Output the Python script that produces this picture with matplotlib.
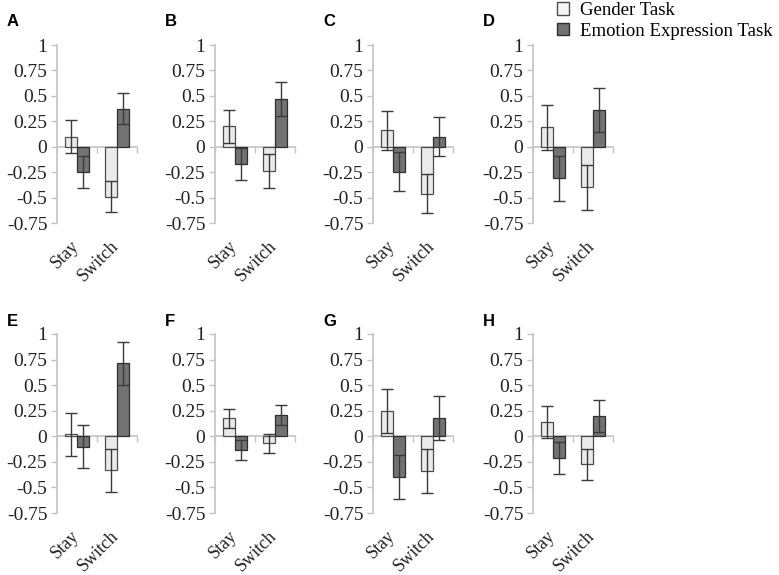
import matplotlib
matplotlib.use("Agg")
import matplotlib.pyplot as plt
from matplotlib.patches import Patch
import numpy as np

panels = ["A", "B", "C", "D", "E", "F", "G", "H"]
conditions = ["Stay", "Switch"]
series_names = ["Gender Task", "Emotion Expression Task"]

# mean values [Stay, Switch]
gender_mean = {
    "A": [0.10, -0.49], "B": [0.20, -0.24], "C": [0.16, -0.46], "D": [0.19, -0.40],
    "E": [0.02, -0.33], "F": [0.175, -0.07], "G": [0.25, -0.34], "H": [0.14, -0.275],
}
emotion_mean = {
    "A": [-0.25, 0.375], "B": [-0.17, 0.47], "C": [-0.245, 0.10], "D": [-0.31, 0.36],
    "E": [-0.10, 0.715], "F": [-0.135, 0.21], "G": [-0.395, 0.18], "H": [-0.21, 0.20],
}
gender_err = {
    "A": [0.16, 0.155], "B": [0.165, 0.165], "C": [0.19, 0.195], "D": [0.22, 0.22],
    "E": [0.21, 0.21], "F": [0.095, 0.095], "G": [0.215, 0.215], "H": [0.155, 0.15],
}
emotion_err = {
    "A": [0.155, 0.15], "B": [0.16, 0.165], "C": [0.19, 0.19], "D": [0.22, 0.22],
    "E": [0.21, 0.21], "F": [0.10, 0.10], "G": [0.215, 0.215], "H": [0.155, 0.155],
}
yticks = [1, 0.75, 0.5, 0.25, 0, -0.25, -0.5, -0.75]
ytick_labels = ["1", "0.75", "0.5", "0.25", "0", "-0.25", "-0.5", "-0.75"]

W, H = 779, 575
fig = plt.figure(figsize=(W / 100, H / 100), dpi=100)

serif = ["Liberation Serif", "DejaVu Serif"]
gray_axis = "#c4c4c4"
g_fill, g_edge = "#eaeaea", "#4d4d4d"
e_fill, e_edge = "#727272", "#2e2e2e"
err_col = "#3a3a3a"

lefts = [57, 215, 373, 533]
row_tb = [(45, 223), (334, 513)]
letter_y = [21, 322]
ax_w = 80

for i, p in enumerate(panels):
    r, c = divmod(i, 4)
    top, bot = row_tb[r]
    ax = fig.add_axes([lefts[c] / W, (H - bot) / H, ax_w / W, (bot - top) / H])
    x = np.arange(len(conditions)) + 0.5
    bw = 0.3
    ax.bar(x - bw / 2, gender_mean[p], bw, color=g_fill, edgecolor=g_edge, linewidth=0.9, zorder=2)
    ax.bar(x + bw / 2, emotion_mean[p], bw, color=e_fill, edgecolor=e_edge, linewidth=0.9, zorder=2)
    ax.errorbar(x - bw / 2, gender_mean[p], yerr=gender_err[p], fmt="none",
                ecolor=err_col, elinewidth=1, capsize=4, capthick=1, zorder=3)
    ax.errorbar(x + bw / 2, emotion_mean[p], yerr=emotion_err[p], fmt="none",
                ecolor=err_col, elinewidth=1, capsize=4, capthick=1, zorder=3)
    ax.set_xlim(0, 2)
    ax.set_ylim(-0.75, 1)
    for s in ["top", "right"]:
        ax.spines[s].set_visible(False)
    ax.spines["left"].set_color(gray_axis)
    ax.spines["left"].set_linewidth(1.2)
    ax.spines["bottom"].set_position(("data", 0))
    ax.spines["bottom"].set_color(gray_axis)
    ax.spines["bottom"].set_linewidth(1.2)
    ax.spines["bottom"].set_zorder(1)
    ax.set_yticks(yticks)
    ax.set_yticklabels(ytick_labels, fontfamily=serif, fontsize=14, color="#222222")
    ax.set_xticks([0, 1, 2])
    ax.set_xticklabels([])
    ax.tick_params(axis="y", length=4, width=1, color=gray_axis, pad=3)
    ax.tick_params(axis="x", length=4, width=1, color=gray_axis, direction="out")
    ax.patch.set_alpha(0)
    tr = ax.get_xaxis_transform()
    for xi, lab in zip(x, conditions):
        ax.text(xi + 0.13, -0.08, lab, transform=tr, rotation=45, ha="right", va="top",
                fontfamily=serif, fontsize=13, color="#222222")
    fig.text((lefts[c] - 50) / W, (H - letter_y[r]) / H, p, fontfamily="Liberation Sans",
             fontweight="bold", fontsize=12, ha="left", va="center")

handles = [Patch(facecolor="#f6f6f6", edgecolor=g_edge, linewidth=1),
           Patch(facecolor=e_fill, edgecolor=e_edge, linewidth=1)]
fig.legend(handles, series_names, loc="upper left", bbox_to_anchor=(557 / W, 1.0 - 2 / H),
           frameon=False, prop={"family": serif, "size": 13.5}, handlelength=0.65,
           handleheight=0.65, handletextpad=0.55, labelspacing=0.2, borderpad=0,
           borderaxespad=0)

fig.savefig("out.png", dpi=100)
